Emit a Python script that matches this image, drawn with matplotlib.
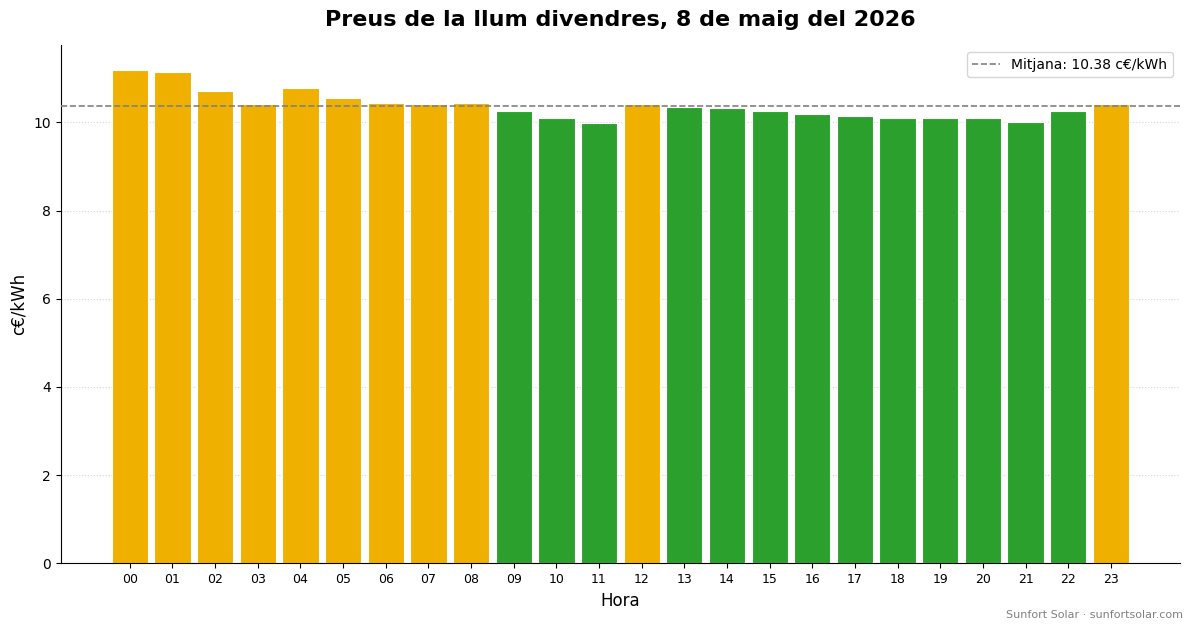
import numpy as np
import matplotlib
matplotlib.use("Agg")
import matplotlib.pyplot as plt

hours = [f"{h:02d}" for h in range(24)]
prices = [11.19, 11.14, 10.71, 10.42, 10.78, 10.55, 10.44, 10.42, 10.44,
          10.26, 10.10, 9.99, 10.42, 10.35, 10.33, 10.26, 10.19, 10.15,
          10.10, 10.10, 10.10, 10.01, 10.26, 10.42]
mean_price = 10.38

ORANGE = "#F0B000"
GREEN = "#2CA02C"


def main():
    fig, ax = plt.subplots(figsize=(11.93, 6.28), dpi=100)
    x = np.arange(len(hours))
    colors = [ORANGE if p > mean_price else GREEN for p in prices]

    ax.bar(x, prices, width=0.85, color=colors, edgecolor="white", linewidth=0.8, zorder=2)
    ax.axhline(mean_price, color="gray", linestyle="--", linewidth=1.2, zorder=3,
               label=f"Mitjana: {mean_price:.2f} c€/kWh")

    ax.set_xticks(x)
    ax.set_xticklabels(hours, fontsize=9)
    ax.set_xlabel("Hora", fontsize=12)
    ax.set_ylabel("c€/kWh", fontsize=12)
    ax.set_title("Preus de la llum divendres, 8 de maig del 2026", fontsize=16,
                 fontweight="bold", pad=14)
    ax.grid(axis="y", linestyle=":", color="#cccccc", alpha=0.8, zorder=0)
    ax.set_axisbelow(True)
    ax.spines["top"].set_visible(False)
    ax.spines["right"].set_visible(False)
    ax.legend(loc="upper right")

    fig.text(0.992, 0.012, "Sunfort Solar · sunfortsolar.com", ha="right", va="bottom",
             fontsize=8, color="gray")
    fig.subplots_adjust(left=0.051, right=0.989, top=0.928, bottom=0.103)
    fig.savefig("out.png", dpi=100)
    plt.close(fig)


if __name__ == "__main__":
    main()
